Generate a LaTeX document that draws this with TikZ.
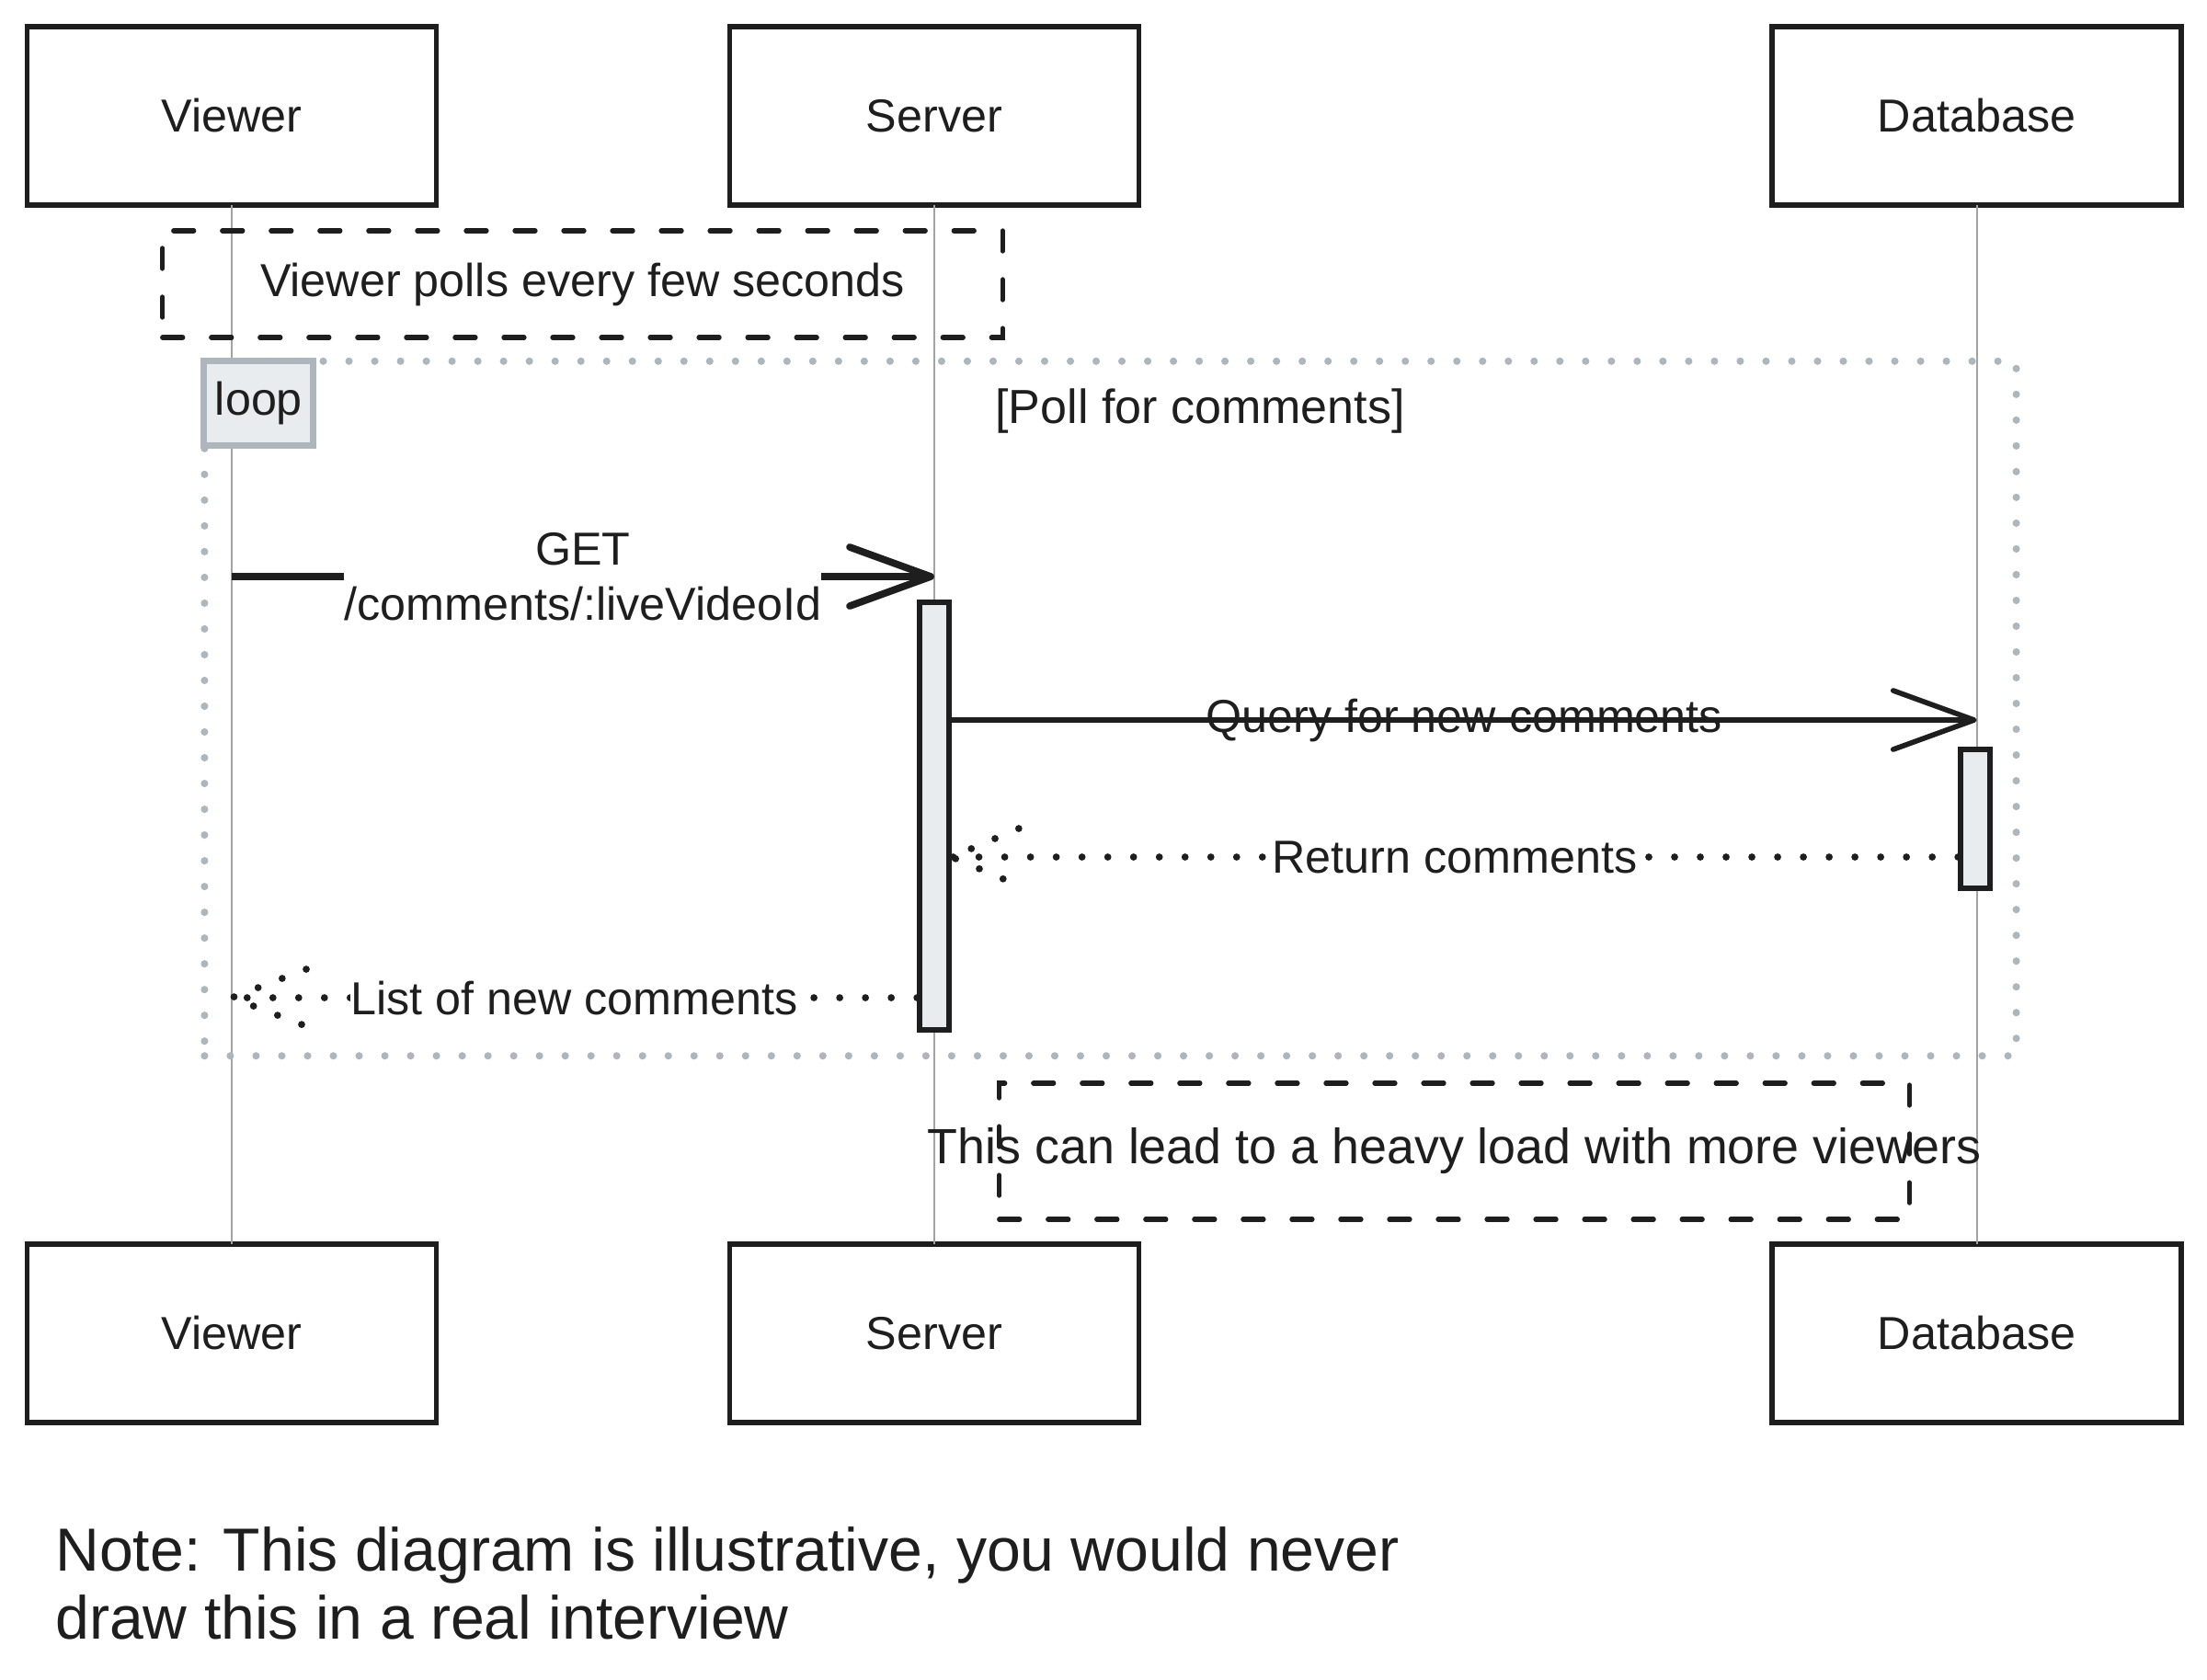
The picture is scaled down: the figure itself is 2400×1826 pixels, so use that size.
\documentclass[tikz,border=0pt]{standalone}
\usepackage{fontspec}
\setmainfont{Liberation Sans}
\usetikzlibrary{arrows.meta, positioning, calc}
\definecolor{ink}{HTML}{1E1E1E}
\definecolor{framegray}{HTML}{ADB5BD}
\definecolor{actfill}{HTML}{E9ECEF}
\definecolor{lifegray}{HTML}{A3A3A3}

\begin{document}
\begin{tikzpicture}[x=0.01cm, y=-0.01cm,
    every node/.style={font=\fontsize{14.3}{17.2}\selectfont, text=ink},
    actor/.style={draw=ink, line width=1.6pt, fill=white, outer sep=0pt, minimum width=4.45cm, minimum height=1.94cm},
    lifeline/.style={draw=lifegray, line width=0.6pt},
    actbar/.style={draw=ink, line width=1.6pt, fill=actfill, minimum width=0.32cm, inner sep=0pt},
    notebox/.style={draw=ink, line width=1.5pt, dash pattern=on 0.22cm off 0.31cm, line cap=round, inner sep=0pt},
    loopframe/.style={draw=framegray, line width=2.3pt, dash pattern=on 0pt off 0.28cm, line cap=round, inner sep=0pt},
    looptag/.style={draw=framegray, line width=2pt, fill=actfill, minimum width=1.19cm, minimum height=0.92cm, inner sep=0pt},
    callmsg/.style={draw=ink, line width=2.2pt, line join=round, -{Straight Barb[length=0.88cm, width=0.64cm, round]}},
    retmsg/.style={draw=ink, line width=2.2pt, line cap=round, dash pattern=on 0pt off 0.28cm},
    msglabel/.style={fill=white, inner sep=0pt}]
    \useasboundingbox (0,0) rectangle (2400,1826);
    \fill[white] (0,0) rectangle (2400,1826);

    % participants
    \node[actor] (vtop) at (252,126) {Viewer};
    \node[actor, right=3.185cm of vtop] (stop) {Server};
    \node[actor, right=6.88cm of stop] (dtop) {Database};
    \node[actor, below=11.29cm of vtop] (vbot) {Viewer};
    \node[actor, below=11.29cm of stop] (sbot) {Server};
    \node[actor, below=11.29cm of dtop] (dbot) {Database};

    \draw[lifeline] (vtop.south) -- (vbot.north);
    \draw[lifeline] (stop.south) -- (sbot.north);
    \draw[lifeline] (dtop.south) -- (dbot.north);

    % loop fragment
    \node[loopframe, minimum width=19.69cm, minimum height=7.55cm] (loopbox) at (1207.5,770.5) {};
    \node[looptag, anchor=north west] (looptag) at (loopbox.north west) {loop};
    \node[anchor=west, font=\fontsize{14.8}{17.2}\selectfont] (cond) at (1070,447) {[Poll for comments]};

    % activations
    \node[actbar, minimum height=4.65cm] (srvact) at (1016,887.5) {};
    \node[actbar, minimum height=1.51cm] (dbact) at (2148,890.5) {};

    % message rows
    \coordinate (m1) at (0,627);
    \coordinate (m2) at (0,783);
    \coordinate (m3) at (0,932);
    \coordinate (m4) at (0,1085);

    \draw[callmsg] (vtop |- m1) -- node[msglabel, align=center] {GET\\/comments/:liveVideoId} (stop |- m1);
    \draw[callmsg, line width=1.6pt] (srvact.east |- m2) -- node {Query for new comments} (dtop |- m2);

    \draw[retmsg] (dbact.west |- m3) -- node[msglabel] {Return comments} (srvact.east |- m3);
    \draw[retmsg] ($(srvact.east |- m3)+(73,-31)$) -- (srvact.east |- m3) -- ($(srvact.east |- m3)+(73,31)$);

    \draw[retmsg] (srvact.west |- m4) -- node[msglabel] {List of new comments} (vtop |- m4);
    \draw[retmsg] ($(vtop |- m4)+(81,-31)$) -- (vtop |- m4) -- ($(vtop |- m4)+(81,31)$);

    % notes
    \node[notebox, minimum width=9.13cm, minimum height=1.16cm] (pollnote) at (633.5,309) {Viewer polls every few seconds};
    \node[notebox, minimum width=9.89cm, minimum height=1.48cm] (loadnote) at (1581.5,1252) {};
    \node[font=\fontsize{15.3}{18}\selectfont] (loadtext) at (loadnote.center) {This can lead to a heavy load with more viewers};

    \node[anchor=west, align=left, font=\fontsize{18.8}{21}\selectfont] (disclaimer) at (48,1722)
        {Note: This diagram is illustrative, you would never\\draw this in a real interview};
\end{tikzpicture}
\end{document}
